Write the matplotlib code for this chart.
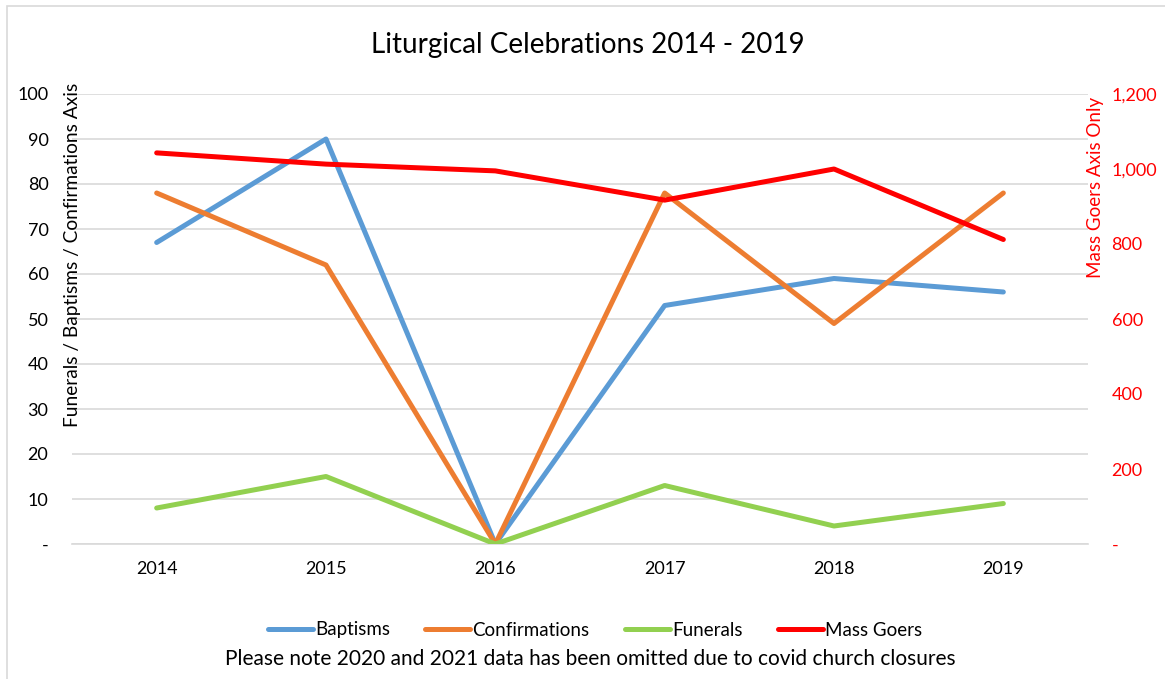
import matplotlib
matplotlib.use("Agg")
import matplotlib.pyplot as plt
from matplotlib.ticker import FuncFormatter, MultipleLocator
from matplotlib.lines import Line2D
from matplotlib.patches import Rectangle

plt.rcParams['font.family'] = ['Lato', 'DejaVu Sans']

years = ["2014", "2015", "2016", "2017", "2018", "2019"]
baptisms = [67, 90, 0, 53, 59, 56]
confirmations = [78, 62, 0, 78, 49, 78]
funerals = [8, 15, 0, 13, 4, 9]
mass_goers = [1043, 1013, 995, 917, 1000, 812]

W, H = 1165, 679
fig = plt.figure(figsize=(W / 100, H / 100), dpi=100)

# chart frame
fig.patches.append(Rectangle((7 / W, -0.1), 1.2, 1 - 6 / H + 0.1, transform=fig.transFigure,
                             fill=False, edgecolor="#D9D9D9", linewidth=1.2))

ax = fig.add_axes([72 / W, (H - 544) / H, 1016 / W, 450 / H])
ax2 = ax.twinx()

x = list(range(len(years)))
lw = 3.6
cols = {"Baptisms": "#5B9BD5", "Confirmations": "#ED7D31", "Funerals": "#92D050", "Mass Goers": "#FF0000"}
ax.plot(x, baptisms, color=cols["Baptisms"], lw=lw, solid_capstyle="round", solid_joinstyle="round", zorder=3)
ax.plot(x, confirmations, color=cols["Confirmations"], lw=lw, solid_capstyle="round", solid_joinstyle="round", zorder=3)
ax.plot(x, funerals, color=cols["Funerals"], lw=lw, solid_capstyle="round", solid_joinstyle="round", zorder=3)
ax2.plot(x, mass_goers, color=cols["Mass Goers"], lw=lw, solid_capstyle="round", solid_joinstyle="round", zorder=3)

ax.set_xlim(-0.5, len(years) - 0.5)
ax.set_ylim(0, 100)
ax2.set_ylim(0, 1200)
ax.yaxis.set_major_locator(MultipleLocator(10))
ax2.yaxis.set_major_locator(MultipleLocator(200))
ax.yaxis.set_major_formatter(FuncFormatter(lambda v, p: "-" if v == 0 else f"{v:.0f}"))
ax2.yaxis.set_major_formatter(FuncFormatter(lambda v, p: "-" if v == 0 else f"{v:,.0f}"))
ax.set_xticks(x)
ax.set_xticklabels(years)

ax.grid(axis="y", color="#D9D9D9", lw=1.2)
ax.set_axisbelow(True)
for a in (ax, ax2):
    for s in a.spines.values():
        s.set_visible(False)
ax.spines["bottom"].set_visible(True)
ax.spines["bottom"].set_color("#D9D9D9")
ax.spines["bottom"].set_linewidth(1.2)

ax.tick_params(axis="y", length=0, pad=17, labelsize=13, labelcolor="#000000")
ax.tick_params(axis="x", length=0, pad=12, labelsize=13, labelcolor="#000000")
ax2.tick_params(axis="y", length=0, pad=17, labelsize=13, labelcolor="#FF0000")

fig.text(588 / W, 1 - 45 / H, "Liturgical Celebrations 2014 - 2019", ha="center", va="center", fontsize=20)
fig.text(73 / W, 1 - 255 / H, "Funerals / Baptisms / Confirmations Axis", rotation=90,
         ha="center", va="center", fontsize=13.8)
fig.text(1095 / W, 1 - 187 / H, "Mass Goers Axis Only", rotation=90,
         ha="center", va="center", fontsize=13.5, color="#FF0000")

handles = [Line2D([0], [0], color=c, lw=lw, solid_capstyle="round") for c in cols.values()]
fig.legend(handles, list(cols.keys()), loc="center", bbox_to_anchor=(595 / W, 1 - 630 / H), ncol=4,
           frameon=False, fontsize=13.5, handlelength=2.4, handletextpad=0.1, columnspacing=1.9)
fig.text(590 / W, 1 - 659 / H, "Please note 2020 and 2021 data has been omitted due to covid church closures",
         ha="center", va="center", fontsize=15)

fig.savefig("out.png", dpi=100)
